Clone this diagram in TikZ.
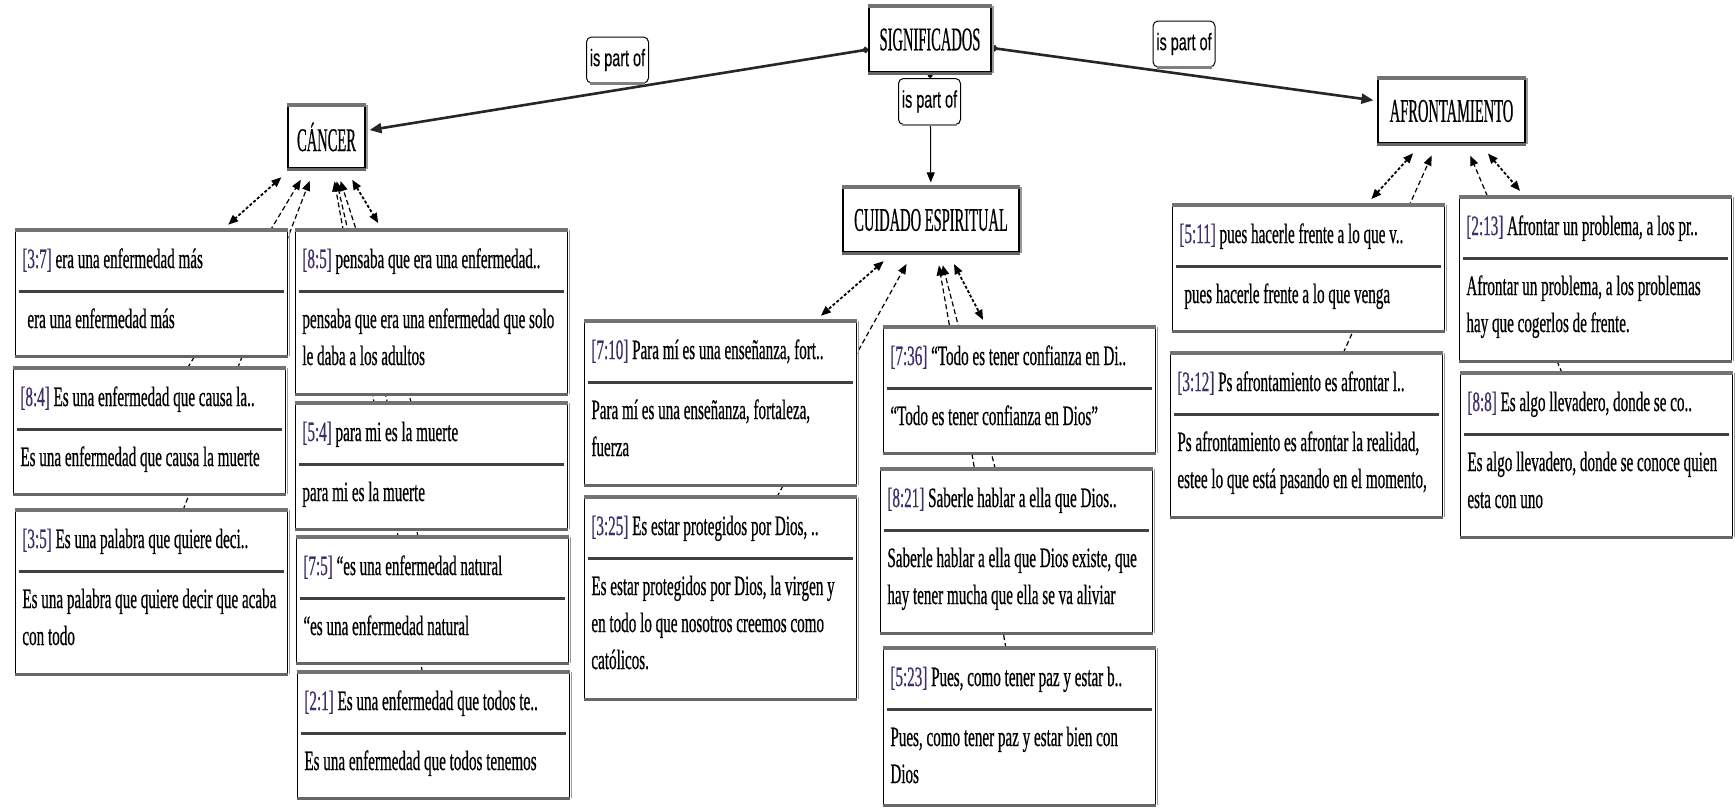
\documentclass[tikz,border=0pt]{standalone}
\usepackage{fontspec}
\usetikzlibrary{arrows.meta,calc,backgrounds}
\newfontfamily\qf[FakeStretch=0.54,FakeBold=0.5]{Liberation Serif}
\newfontfamily\mf[FakeStretch=0.44,FakeBold=0.5]{Liberation Serif}
\newfontfamily\rf[FakeStretch=0.6,FakeBold=0.3]{Liberation Sans}
\definecolor{qid}{RGB}{62,46,105}
\tikzset{
  qbox/.style={draw=black, line width=0.6pt, fill=white, minimum width=136pt, inner sep=0pt, anchor=north west},
  qtxt/.style={font=\qf\fontsize{14}{16}\selectfont, inner sep=0pt, anchor=base west},
  mainbox/.style={draw=black, line width=0.6pt, fill=white, inner sep=0pt, font=\mf\fontsize{16.5}{18}\selectfont},
  rel/.style={draw=black, line width=0.5pt, fill=white, rounded corners=2.5pt, minimum width=31pt, minimum height=23pt, inner sep=0pt, font=\rf\fontsize{12}{13}\selectfont},
  partof/.style={line width=1.3pt, draw=black!85, {Circle[length=3pt]}-{Triangle[length=6pt,width=5pt]}, shorten >=2pt},
  partofv/.style={line width=0.5pt, draw=black, {Circle[length=2.5pt]}-{Triangle[length=5pt,width=4pt]}, shorten >=2.5pt},
  dbl/.style={line width=0.9pt, dash pattern=on 1.5pt off 1pt, {Triangle[length=5pt,width=4pt]}-{Triangle[length=5pt,width=4pt]}, shorten <=6.5pt, shorten >=4pt},
  sgl/.style={line width=0.6pt, dash pattern=on 2.5pt off 1.5pt, -{Triangle[length=5pt,width=4pt]}, shorten >=6.5pt},
}
\newcommand{\mbands}[1]{%
  \draw[black!55,line width=2pt] (#1.north west) -- (#1.north east);
  \draw[black!60,line width=1.4pt] ([yshift=-0.3pt]#1.south west) -- ([yshift=-0.3pt]#1.south east);
  \draw[black!40,line width=0.8pt] ([xshift=0.7pt]#1.north east) -- ([xshift=0.7pt]#1.south east);
}
\newcommand{\qb}[7]{%
  \node[qbox, minimum height=#4] (#1) at (#2,#3) {};
  \mbands{#1}
  \draw[black!75, line width=1.5pt] ([shift={(2pt,-30.5pt)}]#1.north west) -- ([shift={(-2pt,-30.5pt)}]#1.north east);
  \node[qtxt] (#1-t) at ([shift={(3.5pt,-19pt)}]#1.north west) {\textcolor{qid}{[#5]} #6};
  \foreach \l [count=\i from 0] in {#7} {
    \node[qtxt] (#1-c\i) at ([shift={(3.5pt,{-49pt-18.5pt*\i})}]#1.north west) {\l};
  }
}
\begin{document}
\begin{tikzpicture}[x=0.5pt,y=-0.5pt]
\useasboundingbox (0,0) rectangle (1735,810);

% main nodes
\node[mainbox, minimum width=61pt, minimum height=32.5pt] (sig) at (930,39.5) {SIGNIFICADOS};
\mbands{sig}
\node[mainbox, minimum width=38.5pt, minimum height=31pt] (cancer) at (326.5,137) {CÁNCER};
\mbands{cancer}
\node[mainbox, minimum width=88pt, minimum height=32pt] (cuid) at (931,220) {CUIDADO ESPIRITUAL};
\mbands{cuid}
\node[mainbox, minimum width=73.5pt, minimum height=32pt] (afr) at (1451.5,111) {AFRONTAMIENTO};
\mbands{afr}

% relation labels
\node[rel] (r1) at (617.5,60) {is part of};
\node[rel] (r2) at (929.5,101.5) {is part of};
\node[rel] (r3) at (1184,44) {is part of};
\foreach \r in {r1,r2,r3} {
  \draw[black!50,line width=1.2pt] ([xshift=2pt]\r.south west) -- ([xshift=-2pt]\r.south east);
}

% quotation boxes
\qb{q37}{15}{230}{62.5pt}{3:7}{era una enfermedad más}{{\hspace{2.5pt}era una enfermedad más}}
\qb{q84}{13}{368}{62.5pt}{8:4}{Es una enfermedad que causa la..}{{Es una enfermedad que causa la muerte}}
\qb{q35}{15}{510}{81.5pt}{3:5}{Es una palabra que quiere deci..}{{Es una palabra que quiere decir que acaba},{con todo}}
\qb{q85}{295}{230}{81.5pt}{8:5}{pensaba que era una enfermedad..}{{pensaba que era una enfermedad que solo},{le daba a los adultos}}
\qb{q54}{295}{403}{62.5pt}{5:4}{para mi es la muerte}{{para mi es la muerte}}
\qb{q75}{296}{537}{62.5pt}{7:5}{“es una enfermedad natural}{{“es una enfermedad natural}}
\qb{q21}{297}{672}{62.5pt}{2:1}{Es una enfermedad que todos te..}{{Es una enfermedad que todos tenemos}}
\qb{q710}{584}{321}{81.5pt}{7:10}{Para mí es una enseñanza, fort..}{{Para mí es una enseñanza, fortaleza,},{fuerza}}
\qb{q325}{584}{497}{100.5pt}{3:25}{Es estar protegidos por Dios, ..}{{Es estar protegidos por Dios, la virgen y},{en todo lo que nosotros creemos como},{católicos.}}
\qb{q736}{883}{327}{62.5pt}{7:36}{“Todo es tener confianza en Di..}{{“Todo es tener confianza en Dios”}}
\qb{q821}{880}{469}{81.5pt}{8:21}{Saberle hablar a ella que Dios..}{{Saberle hablar a ella que Dios existe, que},{hay tener mucha que ella se va aliviar}}
\qb{q523}{883}{648}{78pt}{5:23}{Pues, como tener paz y estar b..}{{Pues, como tener paz y estar bien con},{Dios}}
\qb{q511}{1172}{205}{62.5pt}{5:11}{pues hacerle frente a lo que v..}{{\hspace{2.5pt}pues hacerle frente a lo que venga}}
\qb{q312}{1170}{353}{81.5pt}{3:12}{Ps afrontamiento es afrontar l..}{{Ps afrontamiento es afrontar la realidad,},{estee lo que está pasando en el momento,}}
\qb{q213}{1459}{197}{81.5pt}{2:13}{Afrontar un problema, a los pr..}{{Afrontar un problema, a los problemas},{hay que cogerlos de frente.}}
\qb{q88}{1460}{373}{81.5pt}{8:8}{Es algo llevadero, donde se co..}{{Es algo llevadero, donde se conoce quien},{esta con uno}}

\begin{pgfonlayer}{background}
  \fill[white] (0,0) rectangle (1735,810);
  % is part of links
  \draw[partof] (sig) -- (cancer);
  \draw[partof] (sig) -- (afr);
  \draw[partofv] (sig) -- (cuid);
  % CANCER links
  \draw[dbl] (cancer) -- (q37);
  \draw[dbl] (cancer) -- (q85);
  \draw[sgl] (q84) -- (cancer);
  \draw[sgl] (q35) -- (cancer);
  \draw[sgl] (q54) -- (cancer);
  \draw[sgl] (q75) -- (cancer);
  \draw[sgl] (q21) -- (cancer);
  % CUIDADO links
  \draw[dbl] (cuid) -- (q710);
  \draw[dbl] (cuid) -- (q736);
  \draw[sgl] (q325) -- (cuid);
  \draw[sgl] (q821) -- (cuid);
  \draw[sgl] (q523) -- (cuid);
  % AFRONTAMIENTO links
  \draw[dbl] (afr) -- (q511);
  \draw[dbl] (afr) -- (q213);
  \draw[sgl] (q312) -- (afr);
  \draw[sgl] (q88) -- (afr);
\end{pgfonlayer}
\end{tikzpicture}
\end{document}
